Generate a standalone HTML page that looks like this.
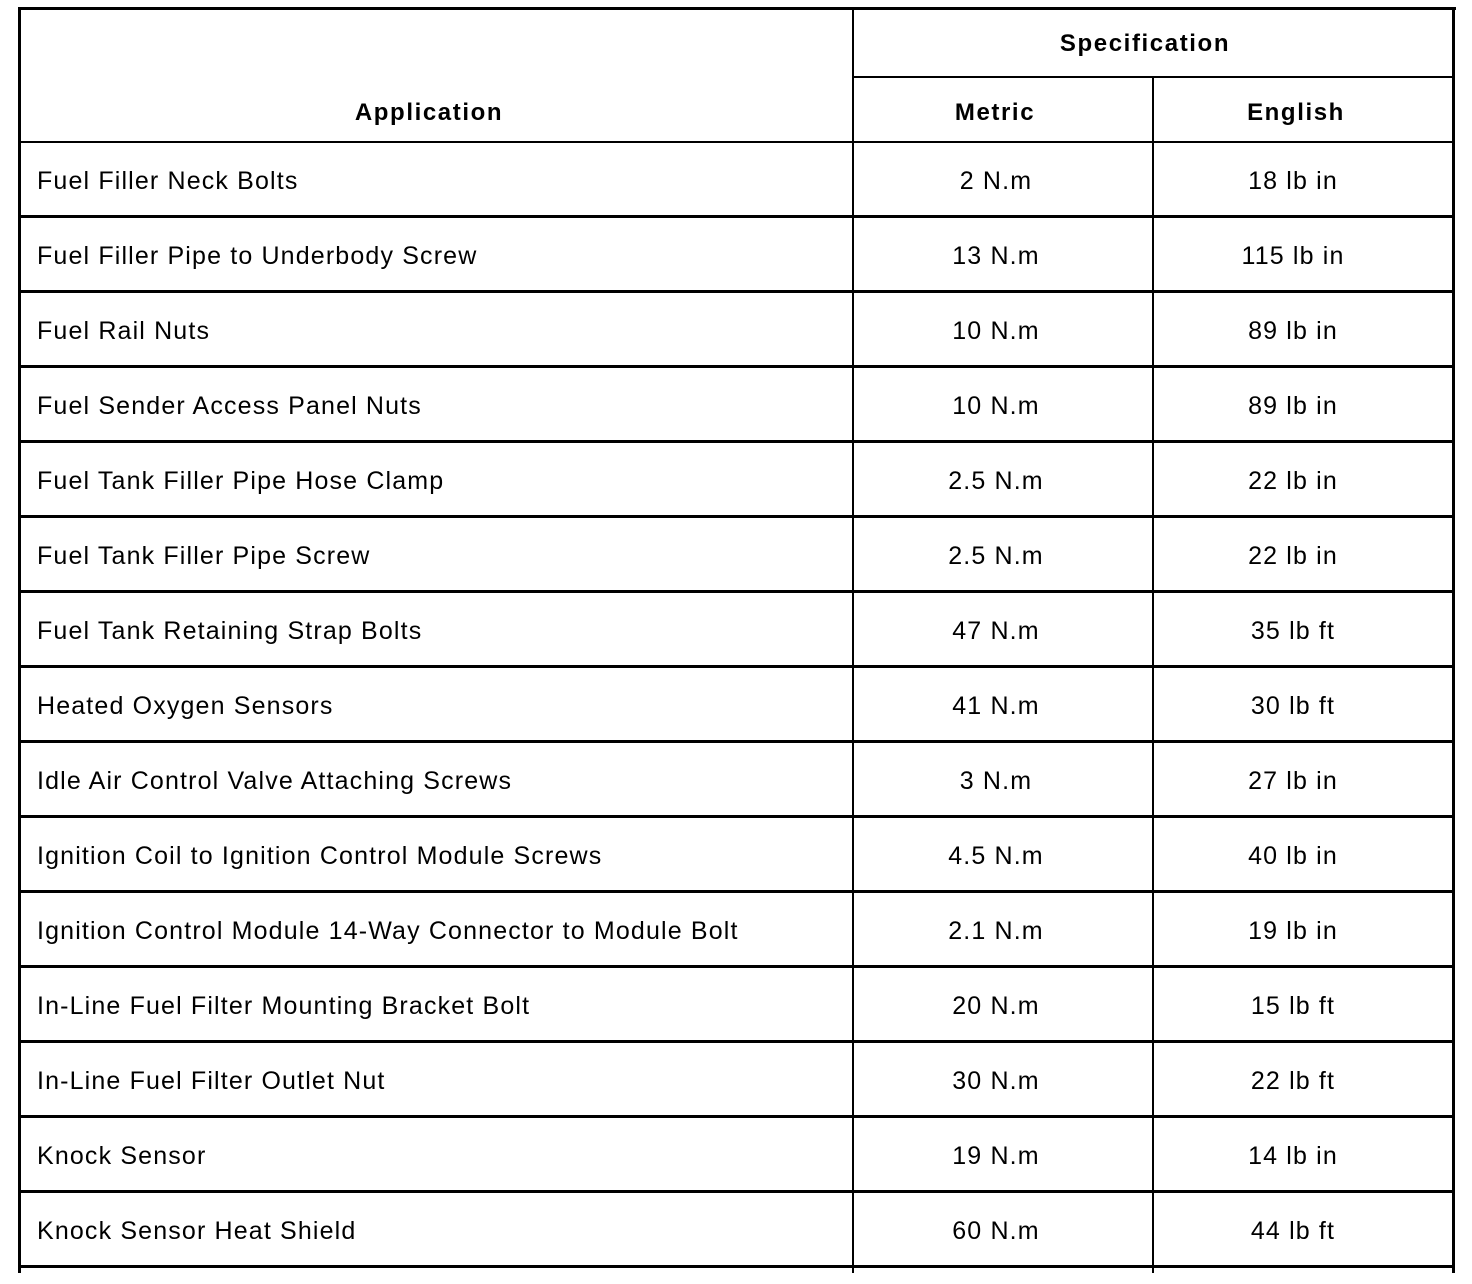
<!DOCTYPE html>
<html><head><style>
body{margin:0;width:1472px;height:1284px;background:#fff;position:relative;overflow:hidden;font-family:"Liberation Sans",Arial,sans-serif;color:#000}
.h{position:absolute;background:#000}
.t{position:absolute;font-size:25px;line-height:30px;white-space:nowrap;letter-spacing:1.15px;top:0}
.b{font-weight:bold;font-size:24px;letter-spacing:1.6px}
.c{transform:translateX(-50%)}
</style></head><body>
<div class="h" style="left:18px;top:7px;width:1438px;height:3px"></div>
<div class="h" style="left:18px;top:7px;width:3px;height:1266px"></div>
<div class="h" style="left:1452px;top:7px;width:3px;height:1266px"></div>
<div class="h" style="left:852px;top:7px;width:2px;height:1266px"></div>
<div class="h" style="left:1152px;top:77px;width:2px;height:1196px"></div>
<div class="h" style="left:852px;top:76px;width:603px;height:2px"></div>
<div class="h" style="left:18px;top:141px;width:1437px;height:2px"></div>
<div class="t b c" style="left:1145px;top:29px">Specification</div>
<div class="t b c" style="left:429px;top:98px">Application</div>
<div class="t b c" style="left:995px;top:98px">Metric</div>
<div class="t b c" style="left:1296px;top:98px">English</div>
<div id="rows"></div>
<script>
var d=[["Fuel Filler Neck Bolts","2 N.m","18 lb in"],["Fuel Filler Pipe to Underbody Screw","13 N.m","115 lb in"],["Fuel Rail Nuts","10 N.m","89 lb in"],["Fuel Sender Access Panel Nuts","10 N.m","89 lb in"],["Fuel Tank Filler Pipe Hose Clamp","2.5 N.m","22 lb in"],["Fuel Tank Filler Pipe Screw","2.5 N.m","22 lb in"],["Fuel Tank Retaining Strap Bolts","47 N.m","35 lb ft"],["Heated Oxygen Sensors","41 N.m","30 lb ft"],["Idle Air Control Valve Attaching Screws","3 N.m","27 lb in"],["Ignition Coil to Ignition Control Module Screws","4.5 N.m","40 lb in"],["Ignition Control Module 14-Way Connector to Module Bolt","2.1 N.m","19 lb in"],["In-Line Fuel Filter Mounting Bracket Bolt","20 N.m","15 lb ft"],["In-Line Fuel Filter Outlet Nut","30 N.m","22 lb ft"],["Knock Sensor","19 N.m","14 lb in"],["Knock Sensor Heat Shield","60 N.m","44 lb ft"]];
var h="";
d.forEach(function(r,i){var y=166+75*i;
h+='<div class="t" style="left:37px;top:'+y+'px">'+r[0]+'</div>';
h+='<div class="t c" style="left:996px;top:'+y+'px">'+r[1]+'</div>';
h+='<div class="t c" style="left:1293px;top:'+y+'px">'+r[2]+'</div>';
h+='<div class="h" style="left:18px;top:'+(215+75*i)+'px;width:1437px;height:3px"></div>';});
document.getElementById("rows").innerHTML=h;
</script>
</body></html>
